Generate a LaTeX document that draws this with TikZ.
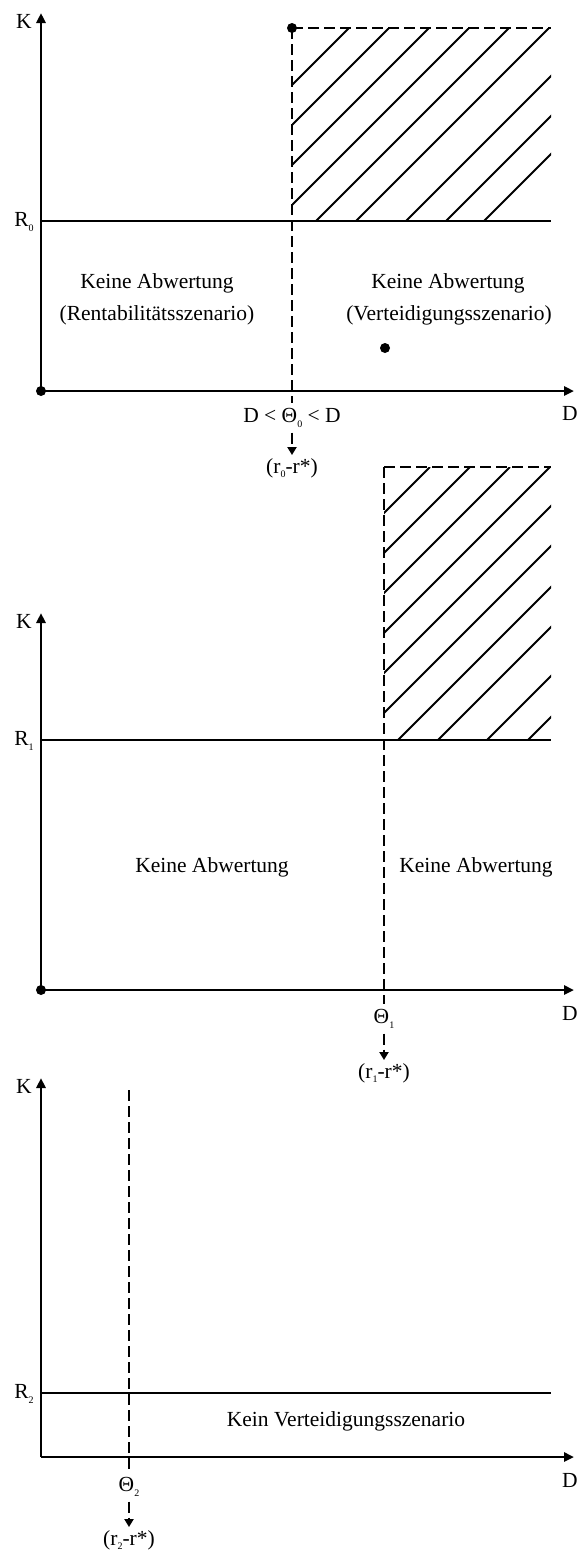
\documentclass[tikz,border=0pt]{standalone}
\usepackage{fontspec}
\setmainfont{Liberation Serif}
\usepackage{tikz}
\usetikzlibrary{arrows.meta,positioning,calc}
\newcommand\lowidx[1]{\raisebox{-0.45ex}{\fontsize{10}{10}\selectfont #1}}
\tikzset{
  axis/.style={line width=2.6pt, -{Triangle[length=10pt,width=9pt]}},
  rline/.style={line width=2.2pt},
  hatch/.style={line width=2pt},
  dashln/.style={line width=2.6pt, dash pattern=on 11pt off 5pt},
  dasharr/.style={dashln, -{Triangle[length=8pt,width=9pt]}},
  dot/.style={circle, fill, inner sep=0pt, minimum size=10pt},
  lbl/.style={inner sep=3pt},
  thlbl/.style={inner sep=5pt}
}

\begin{document}
\begin{tikzpicture}[x=1pt,y=-1pt,font=\fontsize{21.5}{25}\selectfont]
  \useasboundingbox (0,0) rectangle (579,1551);
  % panel 0
  \coordinate (o0) at (41,391); \coordinate (k0) at (41,13); \coordinate (d0) at (574,391);
  \begin{scope}
    \clip (292,28) rectangle (551,221);
    \foreach \c in {377,417,457,497,537,577,627,667,705} \draw[hatch] (\c-221,221) -- (\c-28,28);
  \end{scope}
  \draw[axis] (o0) -- (k0);
  \draw[axis] (o0) -- (d0);
  \node[dot] (z0) at (o0) {};
  \node[lbl] (kl0) at (24,21) {K};
  \node[lbl] (dl0) at (570,413) {D};
  \node[lbl] (rl0) at (24,222) {R\lowidx{0}};
  \coordinate (ra0) at (41,221); \coordinate (rb0) at (551,221);
  \draw[rline] (ra0) -- (rb0);
  \node[dot] (p0) at (292,28) {};
  \coordinate (tr0) at (551,28);
  \node[dot] (q0) at (385,348) {};
  \node[thlbl] (th0) at (292,418) {D < Θ\lowidx{0} < D};
  \node[lbl] (rr0) at (292,468) {(r\lowidx{0}-r*)};
  \draw[dashln] (p0.center) -- (tr0);
  \draw[dashln] (p0.center) -- (th0);
  \draw[dasharr] (th0) -- (rr0);
  \node[lbl] (ka0) at (157,283) {Keine Abwertung};
  \node[lbl] (kb0) at (157,315) {(Rentabilitätsszenario)};
  \node[lbl] (kc0) at (448,283) {Keine Abwertung};
  \node[lbl] (kd0) at (449,315) {(Verteidigungsszenario)};

  % panel 1
  \coordinate (o1) at (41,990); \coordinate (k1) at (41,613); \coordinate (d1) at (574,990);
  \begin{scope}
    \clip (384,467) rectangle (551,740);
    \foreach \c in {897,937,977,1017,1057,1097,1138,1178,1227,1268} \draw[hatch] (\c-740,740) -- (\c-467,467);
  \end{scope}
  \draw[axis] (o1) -- (k1);
  \draw[axis] (o1) -- (d1);
  \node[dot] (z1) at (o1) {};
  \node[lbl] (kl1) at (24,621) {K};
  \node[lbl] (dl1) at (570,1013) {D};
  \node[lbl] (rl1) at (24,741) {R\lowidx{1}};
  \coordinate (ra1) at (41,740); \coordinate (rb1) at (551,740);
  \draw[rline] (ra1) -- (rb1);
  \coordinate (p1) at (384,467); \coordinate (tr1) at (551,467);
  \node[thlbl] (th1) at (384,1019) {Θ\lowidx{1}};
  \node[lbl] (rr1) at (384,1073) {(r\lowidx{1}-r*)};
  \draw[dashln] (p1) -- (tr1);
  \draw[dashln] (p1) -- (th1);
  \draw[dasharr] (th1) -- (rr1);
  \node[lbl] (ka1) at (212,867) {Keine Abwertung};
  \node[lbl] (kc1) at (476,867) {Keine Abwertung};

  % panel 2
  \coordinate (o2) at (41,1457); \coordinate (k2) at (41,1078); \coordinate (d2) at (574,1457);
  \draw[axis] (o2) -- (k2);
  \draw[axis] (o2) -- (d2);
  \node[lbl] (kl2) at (24,1086) {K};
  \node[lbl] (dl2) at (570,1480) {D};
  \node[lbl] (rl2) at (24,1394) {R\lowidx{2}};
  \coordinate (ra2) at (41,1393); \coordinate (rb2) at (551,1393);
  \draw[rline] (ra2) -- (rb2);
  \coordinate (p2) at (129,1090);
  \node[thlbl] (th2) at (129,1487) {Θ\lowidx{2}};
  \node[lbl] (rr2) at (129,1540) {(r\lowidx{2}-r*)};
  \draw[dashln] (p2) -- (th2);
  \draw[dasharr] (th2) -- (rr2);
  \node[lbl] (kv2) at (346,1421) {Kein Verteidigungsszenario};
\end{tikzpicture}
\end{document}
